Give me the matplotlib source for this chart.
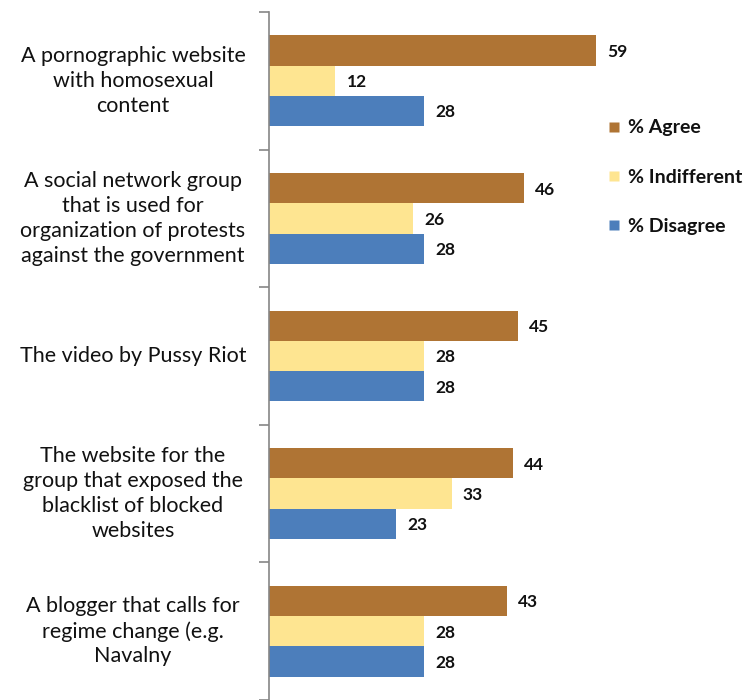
import matplotlib.pyplot as plt
from matplotlib.lines import Line2D
from matplotlib.transforms import blended_transform_factory

plt.rcParams['font.family'] = ['Lato', 'DejaVu Sans']

categories = [
    "A pornographic website\nwith homosexual\ncontent",
    "A social network group\nthat is used for\norganization of protests\nagainst the government",
    "The video by Pussy Riot",
    "The website for the\ngroup that exposed the\nblacklist of blocked\nwebsites",
    "A blogger that calls for\nregime change (e.g.\nNavalny",
]
series_names = ["% Agree", "% Indifferent", "% Disagree"]
agree = [59, 46, 45, 44, 43]
indifferent = [12, 26, 28, 33, 28]
disagree = [28, 28, 28, 23, 28]

colors = ["#AF7434", "#FEE591", "#4C7EBB"]
values = [agree, indifferent, disagree]

fig = plt.figure(figsize=(7.55, 7.0), dpi=100)
ax = fig.add_axes([269 / 755, 0.0, (712 - 269) / 755, (700 - 12) / 700])

h = 0.22
offsets = [-h, 0, h]
ypos = list(range(len(categories)))
for vals, off, col in zip(values, offsets, colors):
    ys = [y + off for y in ypos]
    ax.barh(ys, vals, height=h, color=col, edgecolor='none')
    for y, v in zip(ys, vals):
        ax.annotate(str(v), (v, y), xytext=(8, -1), textcoords='offset points',
                    ha='left', va='center', fontsize=12.5, fontweight='bold',
                    color='#111111')

ax.set_xlim(0, 80)
ax.set_ylim(len(categories) - 0.5, -0.5)
ax.set_xticks([])
ax.set_yticks([i - 0.5 for i in range(len(categories) + 1)])
ax.set_yticklabels([])
ax.tick_params(axis='y', direction='out', length=7, width=1.2, color='#868686')
for side in ['top', 'right', 'bottom']:
    ax.spines[side].set_visible(False)
ax.spines['left'].set_color('#868686')
ax.spines['left'].set_linewidth(1.2)

# category labels centred in the left margin
tr = blended_transform_factory(fig.transFigure, ax.transData)
for y, cat in zip(ypos, categories):
    ax.text(133 / 755, y, cat, transform=tr, ha='center', va='center',
            multialignment='center', fontsize=15.5, linespacing=1.3,
            color='#111111', clip_on=False)

handles = [Line2D([], [], marker='s', linestyle='none', markersize=7,
                  markerfacecolor=c, markeredgecolor='none') for c in colors]
leg = fig.legend(handles, series_names, loc='upper left',
                 bbox_to_anchor=(592 / 755, 1 - 102 / 700), frameon=False,
                 handlelength=0.5, handletextpad=0.45, labelspacing=1.65,
                 prop={'size': 14, 'weight': 'bold'})
for t in leg.get_texts():
    t.set_color('#111111')

fig.savefig('out.png', dpi=100)
